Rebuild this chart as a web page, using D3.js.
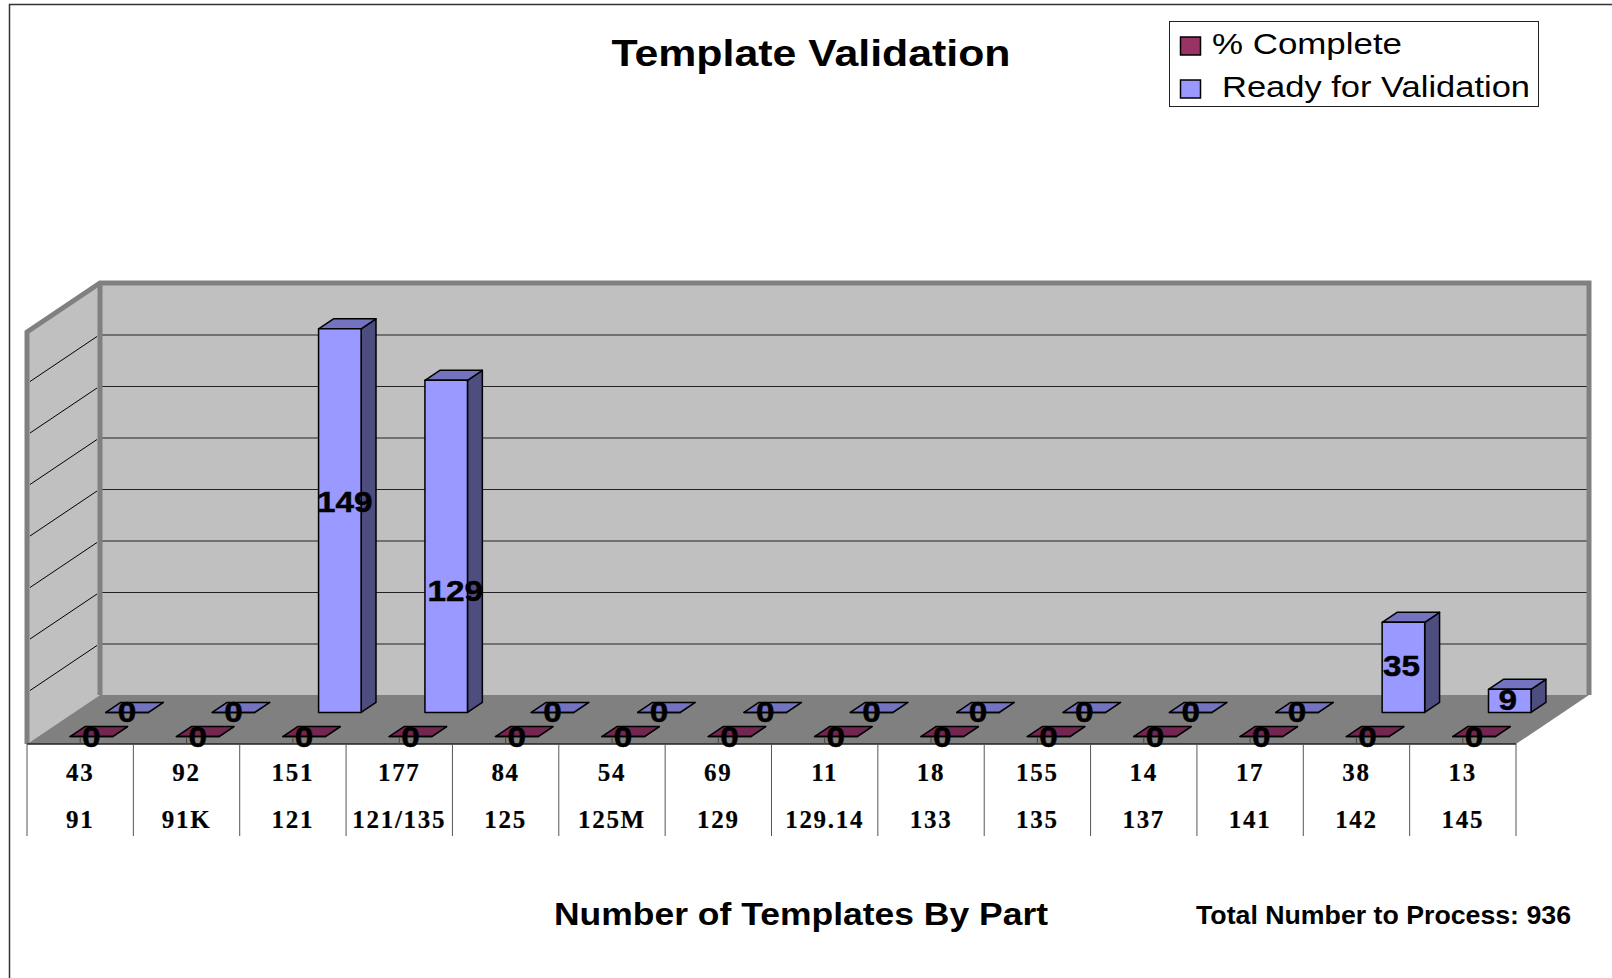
<!DOCTYPE html>
<html>
<head>
<meta charset="utf-8">
<title>Template Validation</title>
<script src="https://d3js.org/d3.v7.min.js"></script>
<style>
    html, body { margin: 0; padding: 0; background: #fff; }
    svg { display: block; }
    text { font-family: "Liberation Sans", Arial, sans-serif; fill: #000; }
    .cat text { font-family: "Liberation Serif", "Times New Roman", serif; font-weight: bold; font-size: 25px; letter-spacing: 1.7px; stroke: #000; stroke-width: .2px; }
    .value_label { font-weight: bold; font-size: 30px; text-anchor: middle; stroke: #000; stroke-width: .5px; }
</style>
</head>
<body>
<div class="main_content"></div>
<script>
// Values
const parts = ['91', '91K', '121', '121/135', '125', '125M', '129', '129.14', '133', '135', '137', '141', '142', '145'];
const counts = ['43', '92', '151', '177', '84', '54', '69', '11', '18', '155', '14', '17', '38', '13'];
const seriesNames = ['% Complete', 'Ready for Validation'];
const percentComplete = [0, 0, 0, 0, 0, 0, 0, 0, 0, 0, 0, 0, 0, 0];
const readyForValidation = [0, 0, 149, 129, 0, 0, 0, 0, 0, 0, 0, 0, 35, 9];
const yTicks = [0, 20, 40, 60, 80, 100, 120, 140, 160];

// The 149 and 129 labels were dragged by hand in the original
const labelNudge = {'121': [5, -19], '121/135': [9, 45], '142': [-2, -1], '145': [-2, -1]};

const colors = [
    {front: '#993366', top: '#732650', side: '#4d1933'},
    {front: '#9999ff', top: '#7373bf', side: '#4d4d80'}
];

const svg = d3.select('.main_content').append('svg')
    .attr('width', 1612)
    .attr('height', 978);

// Scales, front plane of the box
let xScale = d3.scaleBand().domain(parts).range([27, 1516]);
let yScale = d3.scaleLinear().domain([0, 160]).range([744, 332]);
let zScale = d3.scaleBand().domain(seriesNames).range([0, 1]).paddingInner(.584).paddingOuter(.312);

// Depth of the box in px
const depthX = 73, depthY = 49;

function pt(x, y, z) {
    return [x + z * depthX, y - z * depthY];
}
function poly(points) {
    return 'M' + points.map(p => p.join(',')).join('L') + 'Z';
}

// Outer frame, only top and left show
svg.append('path')
    .attr('d', 'M9.5,978V4.5H1612')
    .attr('fill', 'none')
    .attr('stroke', '#333')
    .attr('stroke-width', 1.5);

// Walls and floor
const y0 = yScale(0), yMax = yScale(160), x0 = 27, x1 = 1516;

svg.append('path')
    .attr('d', poly([pt(x0, yMax, 1), pt(x1, yMax, 1), pt(x1, y0, 1), pt(x0, y0, 1)]))
    .attr('fill', '#c0c0c0');
svg.append('path')
    .attr('d', poly([pt(x0, yMax, 0), pt(x0, yMax, 1), pt(x0, y0, 1), pt(x0, y0, 0)]))
    .attr('fill', '#c0c0c0');

// Gridlines on both walls
let grid = svg.append('g').classed('grid', true);
grid.selectAll('.back')
    .data(yTicks.slice(1, -1))
    .enter().append('line')
    .classed('back', true)
    .attr('x1', pt(x0, 0, 1)[0])
    .attr('x2', pt(x1, 0, 1)[0])
    .attr('y1', d => pt(0, yScale(d), 1)[1] + .5)
    .attr('y2', d => pt(0, yScale(d), 1)[1] + .5)
    .attr('stroke', '#222')
    .attr('stroke-width', 1);
grid.selectAll('.side')
    .data(yTicks.slice(1, -1))
    .enter().append('line')
    .classed('side', true)
    .attr('x1', x0 + 3)
    .attr('x2', pt(x0, 0, 1)[0] - 3)
    .attr('y1', d => yScale(d) - 2)
    .attr('y2', d => pt(0, yScale(d), 1)[1] + 2)
    .attr('stroke', '#000')
    .attr('stroke-width', 1);

// Wall edges
svg.append('path')
    .attr('d', 'M' + pt(x0, y0, 0) + 'L' + pt(x0, yMax, 0) + 'L' + pt(x0, yMax, 1) + 'L' + pt(x1, yMax, 1) + 'L' + pt(x1, y0, 1))
    .attr('fill', 'none')
    .attr('stroke', '#808080')
    .attr('stroke-width', 5);
svg.append('line')
    .attr('x1', pt(x0, 0, 1)[0]).attr('x2', pt(x0, 0, 1)[0])
    .attr('y1', pt(0, yMax, 1)[1]).attr('y2', pt(0, y0, 1)[1])
    .attr('stroke', '#808080')
    .attr('stroke-width', 5);

svg.append('path')
    .attr('d', poly([pt(x0, y0, 0), pt(x0, y0, 1), pt(x1, y0, 1), pt(x1, y0, 0)]))
    .attr('fill', '#808080');
svg.append('line')
    .attr('x1', x0).attr('x2', x1)
    .attr('y1', y0).attr('y2', y0)
    .attr('stroke', '#222')
    .attr('stroke-width', 1.5);

// Bars, back row first
const barInner = 0.4;
const rows = [percentComplete, readyForValidation];

[1, 0].forEach(s => {
    let g = svg.append('g').classed('series_' + s, true);
    let z0 = zScale(seriesNames[s]);
    let z1 = z0 + zScale.bandwidth();

    let bars = g.selectAll('g')
        .data(parts.map((p, i) => ({part: p, value: rows[s][i]})))
        .enter().append('g');

    let left = d => xScale(d.part) + xScale.bandwidth() * (1 - barInner) / 2;
    let right = d => left(d) + xScale.bandwidth() * barInner;

    bars.append('path')
        .attr('d', d => poly([pt(right(d), y0, z0), pt(right(d), y0, z1), pt(right(d), yScale(d.value), z1), pt(right(d), yScale(d.value), z0)]))
        .attr('fill', colors[s].side);
    bars.append('path')
        .attr('d', d => poly([pt(left(d), yScale(d.value), z0), pt(left(d), yScale(d.value), z1), pt(right(d), yScale(d.value), z1), pt(right(d), yScale(d.value), z0)]))
        .attr('fill', colors[s].top);
    bars.append('path')
        .attr('d', d => poly([pt(left(d), y0, z0), pt(left(d), yScale(d.value), z0), pt(right(d), yScale(d.value), z0), pt(right(d), y0, z0)]))
        .attr('fill', colors[s].front);

    bars.selectAll('path')
        .attr('stroke', '#000')
        .attr('stroke-width', 1.5)
        .attr('stroke-linejoin', 'round');
});

// Category table below the floor
let dividers = svg.append('g').classed('dividers', true);
dividers.selectAll('line')
    .data(parts)
    .enter().append('line')
    .attr('x1', d => xScale(d))
    .attr('x2', d => xScale(d))
    .attr('y1', y0)
    .attr('y2', 836)
    .attr('stroke', '#555')
    .attr('stroke-width', 1);
dividers.append('line')
    .attr('x1', x1).attr('x2', x1)
    .attr('y1', y0).attr('y2', 836)
    .attr('stroke', '#555')
    .attr('stroke-width', 1);

// Small tick at the middle of each category
svg.append('g')
    .selectAll('line')
    .data(parts)
    .enter().append('line')
    .attr('x1', d => xScale(d) + xScale.bandwidth() / 2)
    .attr('x2', d => xScale(d) + xScale.bandwidth() / 2)
    .attr('y1', y0 - 7)
    .attr('y2', y0)
    .attr('stroke', '#444')
    .attr('stroke-width', 1);

let countAxis = d3.axisBottom(xScale)
    .tickSize(0)
    .tickPadding(19)
    .tickFormat((d, i) => counts[i]);
let partAxis = d3.axisBottom(xScale)
    .tickSize(0)
    .tickPadding(19);

[[countAxis, y0], [partAxis, y0 + 47]].forEach(a => {
    let g = svg.append('g')
        .attr('class', 'cat')
        .attr('transform', 'translate(0,' + a[1] + ')')
        .call(a[0]);
    g.select('.domain').remove();
    g.selectAll('text').attr('font-size', null).attr('font-family', null);
});

// Value labels
[1, 0].forEach(s => {
    let z0 = zScale(seriesNames[s]);
    svg.append('g')
        .selectAll('text')
        .data(parts.map((p, i) => ({part: p, value: rows[s][i]})))
        .enter().append('text')
        .attr('class', 'value_label')
        .attr('x', d => {
            let n = (s === 1 && labelNudge[d.part]) ? labelNudge[d.part][0] : 0;
            return pt(xScale(d.part) + xScale.bandwidth() / 2, 0, z0)[0] + n;
        })
        .attr('y', d => {
            let n = (s === 1 && labelNudge[d.part]) ? labelNudge[d.part][1] : 0;
            return pt(0, (yScale(d.value) + y0) / 2, z0)[1] + n + 10;
        })
        .attr('textLength', d => String(d.value).length * 18.5)
        .attr('lengthAdjust', 'spacingAndGlyphs')
        .text(d => d.value);
});

// Titles, stretched a bit wider than the font like the original
svg.append('text')
    .attr('x', 811).attr('y', 66)
    .attr('text-anchor', 'middle')
    .attr('textLength', 399)
    .attr('lengthAdjust', 'spacingAndGlyphs')
    .style('font-weight', 'bold')
    .style('font-size', '36px')
    .text('Template Validation');
svg.append('text')
    .attr('x', 801).attr('y', 925)
    .attr('text-anchor', 'middle')
    .attr('textLength', 494)
    .attr('lengthAdjust', 'spacingAndGlyphs')
    .style('font-weight', 'bold')
    .style('font-size', '31px')
    .text('Number of Templates By Part');
svg.append('text')
    .attr('x', 1383.5).attr('y', 924)
    .attr('text-anchor', 'middle')
    .attr('textLength', 375)
    .attr('lengthAdjust', 'spacingAndGlyphs')
    .style('font-weight', 'bold')
    .style('font-size', '26px')
    .text('Total Number to Process: 936');

// Legend
let legend = svg.append('g').classed('legend', true);
legend.append('rect')
    .attr('x', 1169.5).attr('y', 21.5)
    .attr('width', 369).attr('height', 85)
    .attr('fill', '#fff')
    .attr('stroke', '#222')
    .attr('stroke-width', 1);
const legendY = [37, 80];
const legendX = [1212, 1222];
const legendLen = [190, 308];
seriesNames.forEach((name, i) => {
    legend.append('rect')
        .attr('x', 1180.5).attr('y', legendY[i])
        .attr('width', 20).attr('height', 18)
        .attr('fill', colors[i].front)
        .attr('stroke', '#000')
        .attr('stroke-width', 1.5);
    legend.append('text')
        .attr('x', legendX[i]).attr('y', legendY[i] + 17)
        .attr('textLength', legendLen[i])
        .attr('lengthAdjust', 'spacingAndGlyphs')
        .style('font-size', '30px')
        .text(name);
});
</script>
</body>
</html>
